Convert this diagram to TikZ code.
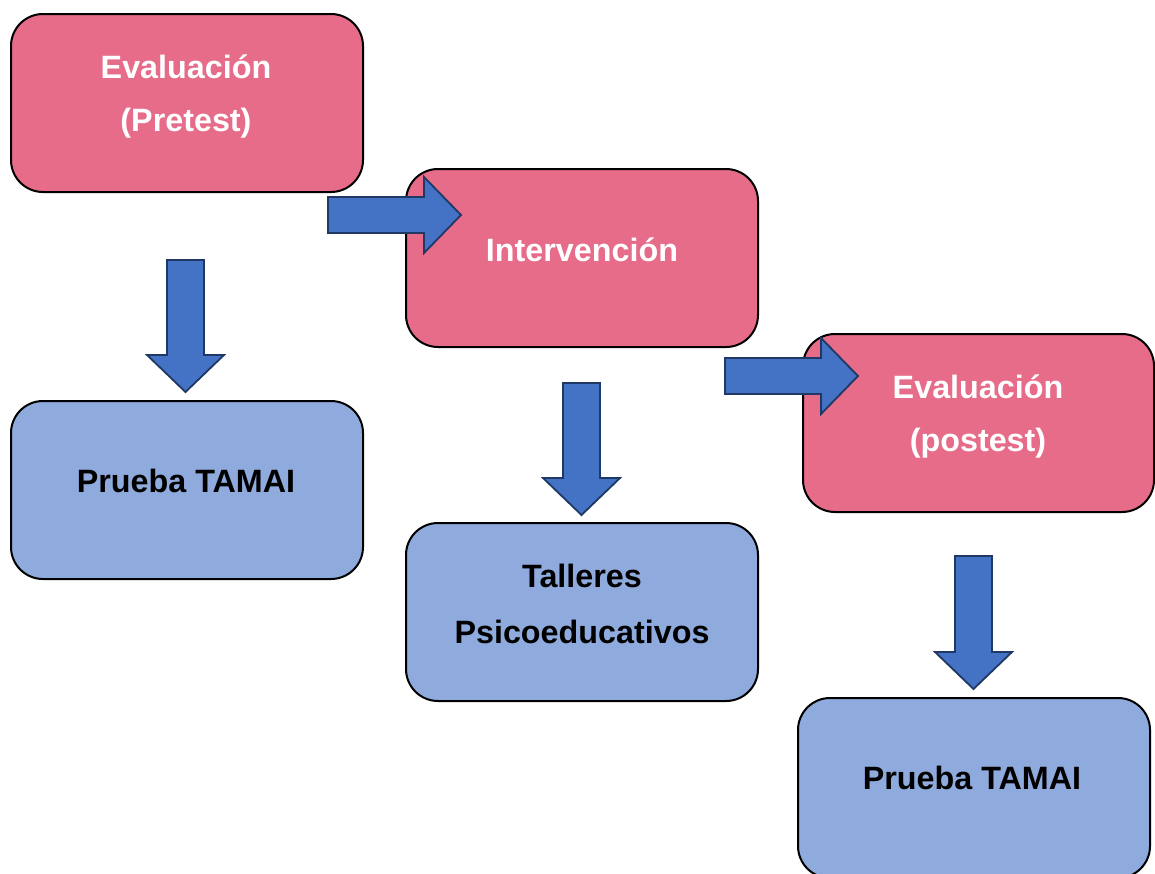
\documentclass[tikz,border=0pt]{standalone}
\usepackage{fontspec}
\setmainfont{Liberation Sans}
\definecolor{pinkbox}{RGB}{230,108,138}
\definecolor{bluebox}{RGB}{143,170,220}
\definecolor{arrowfill}{RGB}{68,114,196}
\definecolor{arrowline}{RGB}{31,56,100}
\tikzset{
  box/.style={draw=black, line width=2pt, rounded corners=32pt, minimum width=352pt, minimum height=178pt, inner sep=0pt, anchor=north west},
  pinkb/.style={box, fill=pinkbox},
  blueb/.style={box, fill=bluebox},
  lbl/.style={font=\bfseries\fontsize{32.3}{55}\selectfont, align=center, inner sep=0pt},
  wlbl/.style={lbl, text=white},
  blbl/.style={lbl, text=black},
  blockarrow/.style={draw=arrowline, fill=arrowfill, line width=1.8pt, line join=miter}
}
\begin{document}
\begin{tikzpicture}[x=1pt,y=-1pt]
\useasboundingbox (0,0) rectangle (1155,873);
% boxes
\node[pinkb] (eval1) at (10,13) {};
\node[pinkb] (interv) at (405,168) {};
\node[pinkb, minimum width=351pt] (eval2) at (802,333) {};
\node[blueb] (tamai1) at (10,400) {};
\node[blueb] (talleres) at (405,522) {};
\node[blueb, minimum height=180pt] (tamai2) at (797,697) {};
% labels
\node[wlbl] (t1a) at (186,67) {Evaluación};
\node[wlbl] (t1b) at (186,123) {(Pretest)};
\node[wlbl] (t2) at (582,250) {Intervención};
\node[wlbl] (t3a) at (978,387) {Evaluación};
\node[wlbl] (t3b) at (978,443) {(postest)};
\node[blbl] (t4) at (186,481) {Prueba TAMAI};
\node[blbl] (t5a) at (582,576) {Talleres};
\node[blbl] (t5b) at (582,632) {Psicoeducativos};
\node[blbl] (t6) at (972,778) {Prueba TAMAI};
% right block arrows
\draw[blockarrow] (328,197) -- (424,197) -- (424,177) -- (461,215) -- (424,253) -- (424,233) -- (328,233) -- cycle;
\draw[blockarrow] (725,358) -- (821,358) -- (821,338) -- (858,376) -- (821,414) -- (821,394) -- (725,394) -- cycle;
% down block arrows
\draw[blockarrow] (167,260) -- (204,260) -- (204,355) -- (224,355) -- (185.5,392) -- (147,355) -- (167,355) -- cycle;
\draw[blockarrow] (563,383) -- (600,383) -- (600,478) -- (620,478) -- (581.5,515) -- (543,478) -- (563,478) -- cycle;
\draw[blockarrow] (955,556) -- (992,556) -- (992,652) -- (1012,652) -- (973.5,689) -- (935,652) -- (955,652) -- cycle;
\end{tikzpicture}
\end{document}
